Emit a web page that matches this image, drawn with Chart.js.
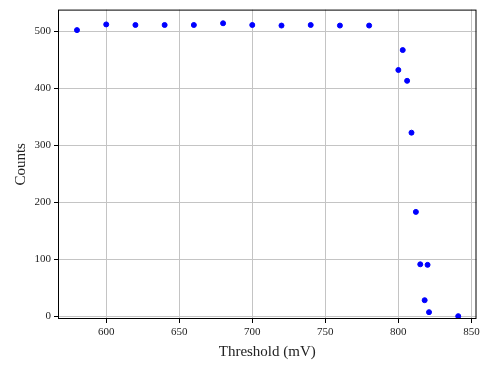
<!DOCTYPE html>
<html>
<head>
<meta charset="utf-8">
<script src="https://cdn.jsdelivr.net/npm/chart.js@4"></script>
<style>
  html, body { margin: 0; padding: 0; background: #fff; }
  #wrap { width: 480px; height: 367px; }
</style>
</head>
<body>
<div id="wrap"><canvas id="c"></canvas></div>
<script>
// Threshold scan: counts vs threshold (mV)
const thresholds = [580, 600, 620, 640, 660, 680, 700, 720, 740, 760, 780,
                    800, 803, 806, 809, 812, 815, 818, 820, 821, 841];
const counts     = [502, 512, 511, 511, 511, 514, 511, 510, 511, 510, 510,
                    432, 467, 413, 322, 183, 91, 28, 90, 7, 0];
const xTicks = [600, 650, 700, 750, 800, 850];
const yTicks = [0, 100, 200, 300, 400, 500];

const FONT = '"Liberation Serif", "DejaVu Serif", serif';

// matplotlib-style black frame round the plot area
const frame = {
  id: 'frame',
  afterDraw(chart) {
    const { ctx, chartArea: a } = chart;
    ctx.save();
    ctx.strokeStyle = '#000';
    ctx.lineWidth = 1;
    ctx.strokeRect(a.left + 0.5, a.top + 0.5, a.right - a.left - 1, a.bottom - a.top - 1);
    ctx.restore();
  }
};

new Chart(document.getElementById('c'), {
  type: 'scatter',
  data: {
    datasets: [{
      data: thresholds.map((t, i) => ({ x: t, y: counts[i] })),
      backgroundColor: '#0000ff',
      borderColor: '#0000ff',
      pointRadius: 2.5,
      pointHoverRadius: 2.5,
    }],
  },
  options: {
    responsive: true,
    maintainAspectRatio: false,
    animation: false,
    layout: { padding: { top: 7, right: 3, left: 12, bottom: 0 } },
    plugins: { legend: { display: false }, tooltip: { enabled: false } },
    scales: {
      x: {
        type: 'linear',
        min: 567,
        max: 853.5,
        afterBuildTicks: s => { s.ticks = xTicks.map(v => ({ value: v })); },
        afterFit: s => { s.height = 48; s.paddingLeft = 0; s.paddingRight = 0; },
        grid: { color: '#c4c4c4', tickColor: '#000', tickLength: 4, lineWidth: 1 },
        border: { display: false },
        ticks: { color: '#222', font: { family: FONT, size: 11 }, padding: 3, maxRotation: 0 },
        title: { display: true, text: 'Threshold (mV)', color: '#222',
                 font: { family: FONT, size: 15 }, padding: { top: 0, bottom: 6 } },
      },
      y: {
        min: -5,
        max: 538,
        afterBuildTicks: s => { s.ticks = yTicks.map(v => ({ value: v })); },
        afterFit: s => { s.width = 46; },
        grid: { color: '#c4c4c4', tickColor: '#000', tickLength: 4, lineWidth: 1 },
        border: { display: false },
        ticks: { color: '#222', font: { family: FONT, size: 11 }, padding: 3 },
        title: { display: true, text: 'Counts', color: '#222',
                 font: { family: FONT, size: 15 }, padding: { top: 0, bottom: 0 } },
      },
    },
  },
  plugins: [frame],
});
</script>
</body>
</html>
